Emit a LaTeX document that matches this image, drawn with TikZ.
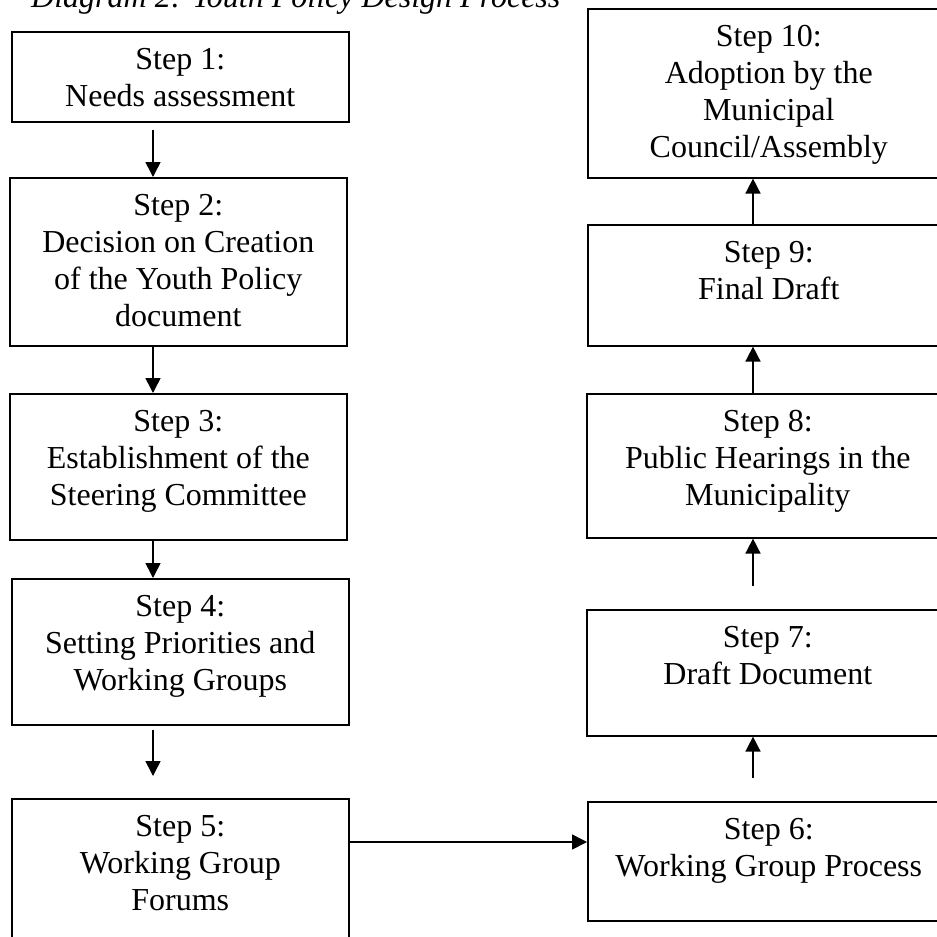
\documentclass[tikz,border=0pt]{standalone}
\usepackage{fontspec}
\setmainfont{Liberation Serif}
\usetikzlibrary{arrows.meta}

\begin{document}
\begin{tikzpicture}[
        x=1pt, y=-1pt,
        stepbox/.style={draw, line width=1.6pt, inner sep=0pt, anchor=north west, minimum width=362pt},
        leftbox/.style={stepbox, minimum width=337pt},
        steptext/.style={anchor=north, align=center, inner sep=0pt, yshift=-17pt, font=\fontsize{32}{37}\selectfont},
        flow/.style={line width=1.6pt, -{Triangle[length=15pt, width=15pt]}}
    ]
        % Page frame, the scan is cut on the top, right and bottom edges
        \path[use as bounding box, clip] (0,0) rectangle (937,937);

        % Title
        \node[anchor=base west, inner sep=0pt, font=\fontsize{32}{37}\selectfont\itshape] (title) at (31,7) {Diagram 2: Youth Policy Design Process};

        % Left column, steps 1 to 5
        \node[leftbox, minimum height=90pt, label={[steptext]north:{Step 1:\\Needs assessment}}] (s1) at (11,31) {};
        \node[leftbox, minimum height=168pt, label={[steptext]north:{Step 2:\\Decision on Creation\\of the Youth Policy\\document}}] (s2) at (9,177) {};
        \node[leftbox, minimum height=146pt, label={[steptext]north:{Step 3:\\Establishment of the\\Steering Committee}}] (s3) at (9,393) {};
        \node[leftbox, minimum height=146pt, label={[steptext]north:{Step 4:\\Setting Priorities and\\Working Groups}}] (s4) at (11,578) {};
        \node[leftbox, minimum height=200pt, label={[steptext]north:{Step 5:\\Working Group\\Forums}}] (s5) at (11,798) {};

        % Right column, steps 6 to 10
        \node[stepbox, minimum height=119pt, label={[steptext]north:{Step 6:\\Working Group Process}}] (s6) at (587,801) {};
        \node[stepbox, minimum height=126pt, label={[steptext]north:{Step 7:\\Draft Document}}] (s7) at (586,609) {};
        \node[stepbox, minimum height=144pt, label={[steptext]north:{Step 8:\\Public Hearings in the\\Municipality}}] (s8) at (586,393) {};
        \node[stepbox, minimum height=121pt, label={[steptext]north:{Step 9:\\Final Draft}}] (s9) at (587,224) {};
        \node[stepbox, minimum height=169pt, label={[steptext]north:{Step 10:\\Adoption by the\\Municipal\\Council/Assembly}}] (s10) at (587,8) {};

        % Arrows
        \coordinate (lx) at (153,0);
        \coordinate (rx) at (753,0);
        \coordinate (hy) at (0,842);
        \draw[flow, shorten <=7pt] (s1.south -| lx) -- (s2.north -| lx);
        \draw[flow] (s2.south -| lx) -- (s3.north -| lx);
        \draw[flow] (s3.south -| lx) -- (s4.north -| lx);
        \draw[flow, shorten <=4pt, shorten >=22pt] (s4.south -| lx) -- (s5.north -| lx);
        \draw[flow] (s5.east |- hy) -- (s6.west |- hy);
        \draw[flow, shorten <=23pt] (s6.north -| rx) -- (s7.south -| rx);
        \draw[flow, shorten <=23pt] (s7.north -| rx) -- (s8.south -| rx);
        \draw[flow] (s8.north -| rx) -- (s9.south -| rx);
        \draw[flow] (s9.north -| rx) -- (s10.south -| rx);
    \end{tikzpicture}
\end{document}
